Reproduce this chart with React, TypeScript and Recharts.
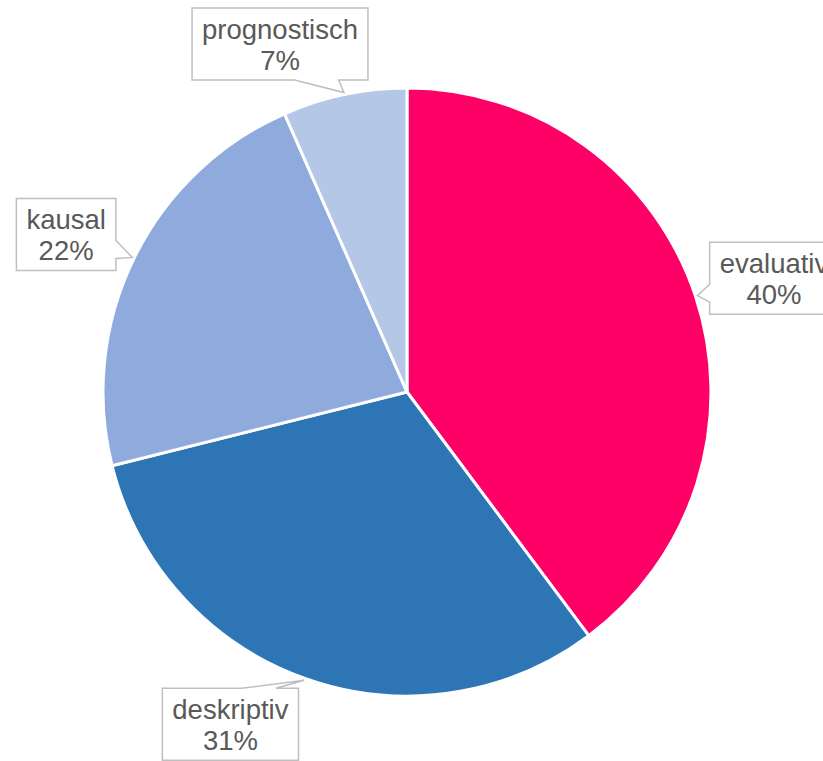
import { Cell, Pie, PieChart } from "recharts";

// Frageart-Verteilung (Anteile in %)
const categories = ["evaluativ", "deskriptiv", "kausal", "prognostisch"];
const shares = [39.8, 31.3, 22.3, 6.6];
const sliceColors = ["#FF0066", "#2E75B6", "#8FAADC", "#B4C7E7"];

// Manual nudges for the callout boxes (Excel-style placement), relative to
// the default spot just outside the pie along each slice's mid angle.
const calloutNudge: Record<string, [number, number]> = {
  evaluativ: [12, 4],
  deskriptiv: [-51, -20],
  kausal: [-5, 7],
  prognostisch: [-50, 18],
};

const data = categories.map((name, i) => ({ name, value: shares[i] }));

const RAD = Math.PI / 180;
const FONT_SIZE = 27.5;
const LINE_H = 31;
const PAD_X = 10;
const FONT = "'Liberation Sans', Arial, sans-serif";

let ctx: CanvasRenderingContext2D | null = null;
function textWidth(s: string): number {
  if (!ctx) ctx = document.createElement("canvas").getContext("2d");
  if (!ctx) return s.length * FONT_SIZE * 0.5;
  ctx.font = `${FONT_SIZE}px ${FONT}`;
  return ctx.measureText(s).width;
}

// wedgeRectCallout-like outline: rectangle with a pointer towards (tx, ty)
function calloutPath(l: number, t: number, r: number, b: number, tx: number, ty: number) {
  const w = r - l;
  const h = b - t;
  const mx = (l + r) / 2;
  const my = (t + b) / 2;
  const dxn = (tx - mx) / w;
  const dyn = (ty - my) / h;
  const pts: string[] = [`M${l},${t}`];
  const span = (a: number, len: number, pos: boolean) =>
    pos ? [a + (len * 7) / 12, a + (len * 10) / 12] : [a + (len * 2) / 12, a + (len * 5) / 12];
  if (Math.abs(dxn) <= Math.abs(dyn) && dyn < 0) {
    const [a, c] = span(l, w, dxn > 0);
    pts.push(`L${a},${t}`, `L${tx},${ty}`, `L${c},${t}`);
  }
  pts.push(`L${r},${t}`);
  if (Math.abs(dxn) > Math.abs(dyn) && dxn > 0) {
    const [a, c] = span(t, h, dyn > 0);
    pts.push(`L${r},${a}`, `L${tx},${ty}`, `L${r},${c}`);
  }
  pts.push(`L${r},${b}`);
  if (Math.abs(dxn) <= Math.abs(dyn) && dyn >= 0) {
    const [a, c] = span(l, w, dxn > 0);
    pts.push(`L${c},${b}`, `L${tx},${ty}`, `L${a},${b}`);
  }
  pts.push(`L${l},${b}`);
  if (Math.abs(dxn) > Math.abs(dyn) && dxn <= 0) {
    const [a, c] = span(t, h, dyn > 0);
    pts.push(`L${l},${c}`, `L${tx},${ty}`, `L${l},${a}`);
  }
  pts.push("Z");
  return pts.join(" ");
}

function renderCallout(props: any) {
  const { cx, cy, midAngle, outerRadius, percent, name } = props;
  const cos = Math.cos(-midAngle * RAD);
  const sin = Math.sin(-midAngle * RAD);
  const tipX = cx + (outerRadius + 2) * cos;
  const tipY = cy + (outerRadius + 2) * sin;
  const [nx, ny] = calloutNudge[name] ?? [0, 0];
  const bx = cx + (outerRadius + 70) * cos + nx;
  const by = cy + (outerRadius + 70) * sin + ny;
  const pct = `${Math.round(percent * 100)}%`;
  const w = Math.max(textWidth(name), textWidth(pct)) + PAD_X * 2;
  const h = LINE_H * 2 + 10;
  const l = bx - w / 2;
  const t = by - h / 2;
  return (
    <g key={`callout-${name}`}>
      <path
        d={calloutPath(l, t, l + w, t + h, tipX, tipY)}
        fill="#FFFFFF"
        stroke="#BFBFBF"
        strokeWidth={1.5}
      />
      <text
        x={bx}
        textAnchor="middle"
        fill="#595959"
        fontSize={FONT_SIZE}
        fontFamily={FONT}
      >
        <tspan x={bx} y={by - LINE_H / 2 + 10}>
          {name}
        </tspan>
        <tspan x={bx} y={by + LINE_H / 2 + 10}>
          {pct}
        </tspan>
      </text>
    </g>
  );
}

export default function App() {
  return (
    <div style={{ position: "absolute", left: 0, top: 0 }}>
      <PieChart width={823} height={761} margin={{ top: 0, right: 0, bottom: 0, left: 0 }}>
        <Pie
          data={data}
          dataKey="value"
          nameKey="name"
          cx={407}
          cy={392}
          outerRadius={304}
          startAngle={90}
          endAngle={-270}
          stroke="#FFFFFF"
          strokeWidth={3}
          label={renderCallout}
          labelLine={false}
          isAnimationActive={false}
        >
          {data.map((d, i) => (
            <Cell key={d.name} fill={sliceColors[i]} />
          ))}
        </Pie>
      </PieChart>
    </div>
  );
}
